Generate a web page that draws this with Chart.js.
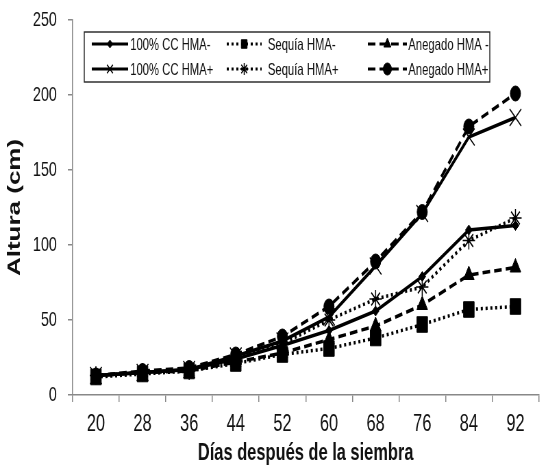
<!DOCTYPE html>
<html>
<head>
<meta charset="utf-8">
<script src="https://cdn.jsdelivr.net/npm/chart.js@4"></script>
<style>
  html, body { margin: 0; padding: 0; background: #fff; overflow: hidden; }
  /* the original figure is squeezed horizontally, so draw wide and squeeze */
  #wrap { width: 800px; height: 468px; transform: scaleX(0.685); transform-origin: 0 0; }
</style>
</head>
<body>
<div id="wrap"><canvas id="c"></canvas></div>
<script>
// days after sowing
const dias = ['20', '28', '36', '44', '52', '60', '68', '76', '84', '92'];
const yTicks = [0, 50, 100, 150, 200, 250];

// plant height (cm)
const ccMenos = [13, 15, 17, 24, 33, 43, 56, 79, 110, 113];
const sequiaMenos = [12, 14, 16, 21, 27, 31, 38, 47, 57, 59];
const anegadoMenos = [13, 15, 16, 22, 28, 37, 46, 60, 80, 85];
const ccMas = [13, 15, 17, 26, 36, 52, 86, 121, 172, 185];
const sequiaMas = [13, 15, 16, 25, 34, 50, 64, 72, 103, 118];
const anegadoMas = [13, 16, 18, 27, 39, 59, 89, 122, 179, 201];

const FONT = "'Liberation Sans', Arial, sans-serif";

function serie(label, data, dash, style, radius) {
    return {
        label: label,
        data: data,
        borderColor: '#000',
        backgroundColor: '#000',
        borderWidth: 3.5,
        borderDash: dash,
        pointStyle: style,
        pointRadius: radius,
        pointBorderWidth: style === 'star' || style === 'crossRot' ? 1.5 : 1,
        pointBorderColor: '#000',
        pointBackgroundColor: '#000',
        tension: 0,
        fill: false
    };
}

const datasets = [
    serie('100% CC HMA-', ccMenos, [], 'rectRot', 5),
    serie('Sequía HMA-', sequiaMenos, [3, 4], 'rect', 11),
    serie('Anegado HMA -', anegadoMenos, [11, 6], 'triangle', 9),
    serie('100% CC HMA+', ccMas, [], 'crossRot', 12),
    serie('Sequía HMA+', sequiaMas, [3, 4], 'star', 9),
    serie('Anegado HMA+', anegadoMas, [11, 6], 'circle', 7.5)
];

// legend box drawn inside the plot area, 3 columns x 2 rows
const boxLegend = {
    id: 'boxLegend',
    afterDraw(chart) {
        const ctx = chart.ctx;
        const bx = 123, by = 32, bw = 592, bh = 50;
        ctx.save();
        ctx.fillStyle = '#fff';
        ctx.fillRect(bx, by, bw, bh);
        ctx.strokeStyle = '#222';
        ctx.lineWidth = 1.4;
        ctx.strokeRect(bx, by, bw, bh);
        const cols = [[134, 187, 190], [331, 382, 391], [537, 594, 596]];
        const rows = [44, 69];
        chart.data.datasets.forEach(function(ds, i) {
            const col = cols[i % 3];
            const y = rows[Math.floor(i / 3)];
            ctx.strokeStyle = '#000';
            ctx.fillStyle = '#000';
            ctx.lineWidth = 3;
            ctx.setLineDash(ds.borderDash);
            ctx.beginPath();
            ctx.moveTo(col[0], y);
            ctx.lineTo(col[1], y);
            ctx.stroke();
            ctx.setLineDash([]);
            ctx.lineWidth = ds.pointBorderWidth;
            Chart.helpers.drawPoint(ctx, {
                pointStyle: ds.pointStyle,
                radius: ds.pointStyle === 'rectRot' ? 4 : 6,
                rotation: 0,
                borderWidth: ds.pointBorderWidth
            }, (col[0] + col[1]) / 2, y);
            ctx.fillStyle = '#111';
            ctx.font = '16.5px ' + FONT;
            ctx.textBaseline = 'middle';
            ctx.textAlign = 'left';
            ctx.fillText(ds.label, col[2], y + 1);
        });
        ctx.restore();
    }
};

new Chart(document.getElementById('c'), {
    type: 'line',
    data: { labels: dias, datasets: datasets },
    options: {
        responsive: true,
        maintainAspectRatio: false,
        animation: false,
        layout: { padding: { top: 20, right: 0, left: 0, bottom: 0 } },
        plugins: {
            legend: { display: false },
            tooltip: { enabled: false }
        },
        scales: {
            x: {
                offset: true,
                afterFit(scale) { scale.height = 73; },
                grid: { drawOnChartArea: false, offset: true, tickLength: 7, color: '#888', lineWidth: 1.5 },
                border: { color: '#888', width: 1.5 },
                ticks: { color: '#111', font: { family: FONT, size: 24 }, maxRotation: 0, padding: 8 },
                title: {
                    display: true,
                    text: 'Días después de la siembra',
                    color: '#111',
                    font: { family: FONT, size: 24, weight: 'bold' },
                    padding: { top: 0, bottom: 0 }
                }
            },
            y: {
                min: 0,
                max: 250,
                afterBuildTicks(axis) { axis.ticks = yTicks.map(v => ({ value: v })); },
                afterFit(scale) {
                    scale.width = 106;
                    scale.paddingTop = 0;
                    scale.paddingBottom = 0;
                },
                grid: { drawOnChartArea: false, tickLength: 7, color: '#888', lineWidth: 1.5 },
                border: { color: '#888', width: 1.5 },
                ticks: { color: '#111', font: { family: FONT, size: 21 }, padding: 16 },
                title: {
                    display: true,
                    text: 'Altura (cm)',
                    color: '#111',
                    font: { family: FONT, size: 26, weight: 'bold' },
                    padding: { top: 6, bottom: 0 }
                }
            }
        }
    },
    plugins: [boxLegend]
});
</script>
</body>
</html>
